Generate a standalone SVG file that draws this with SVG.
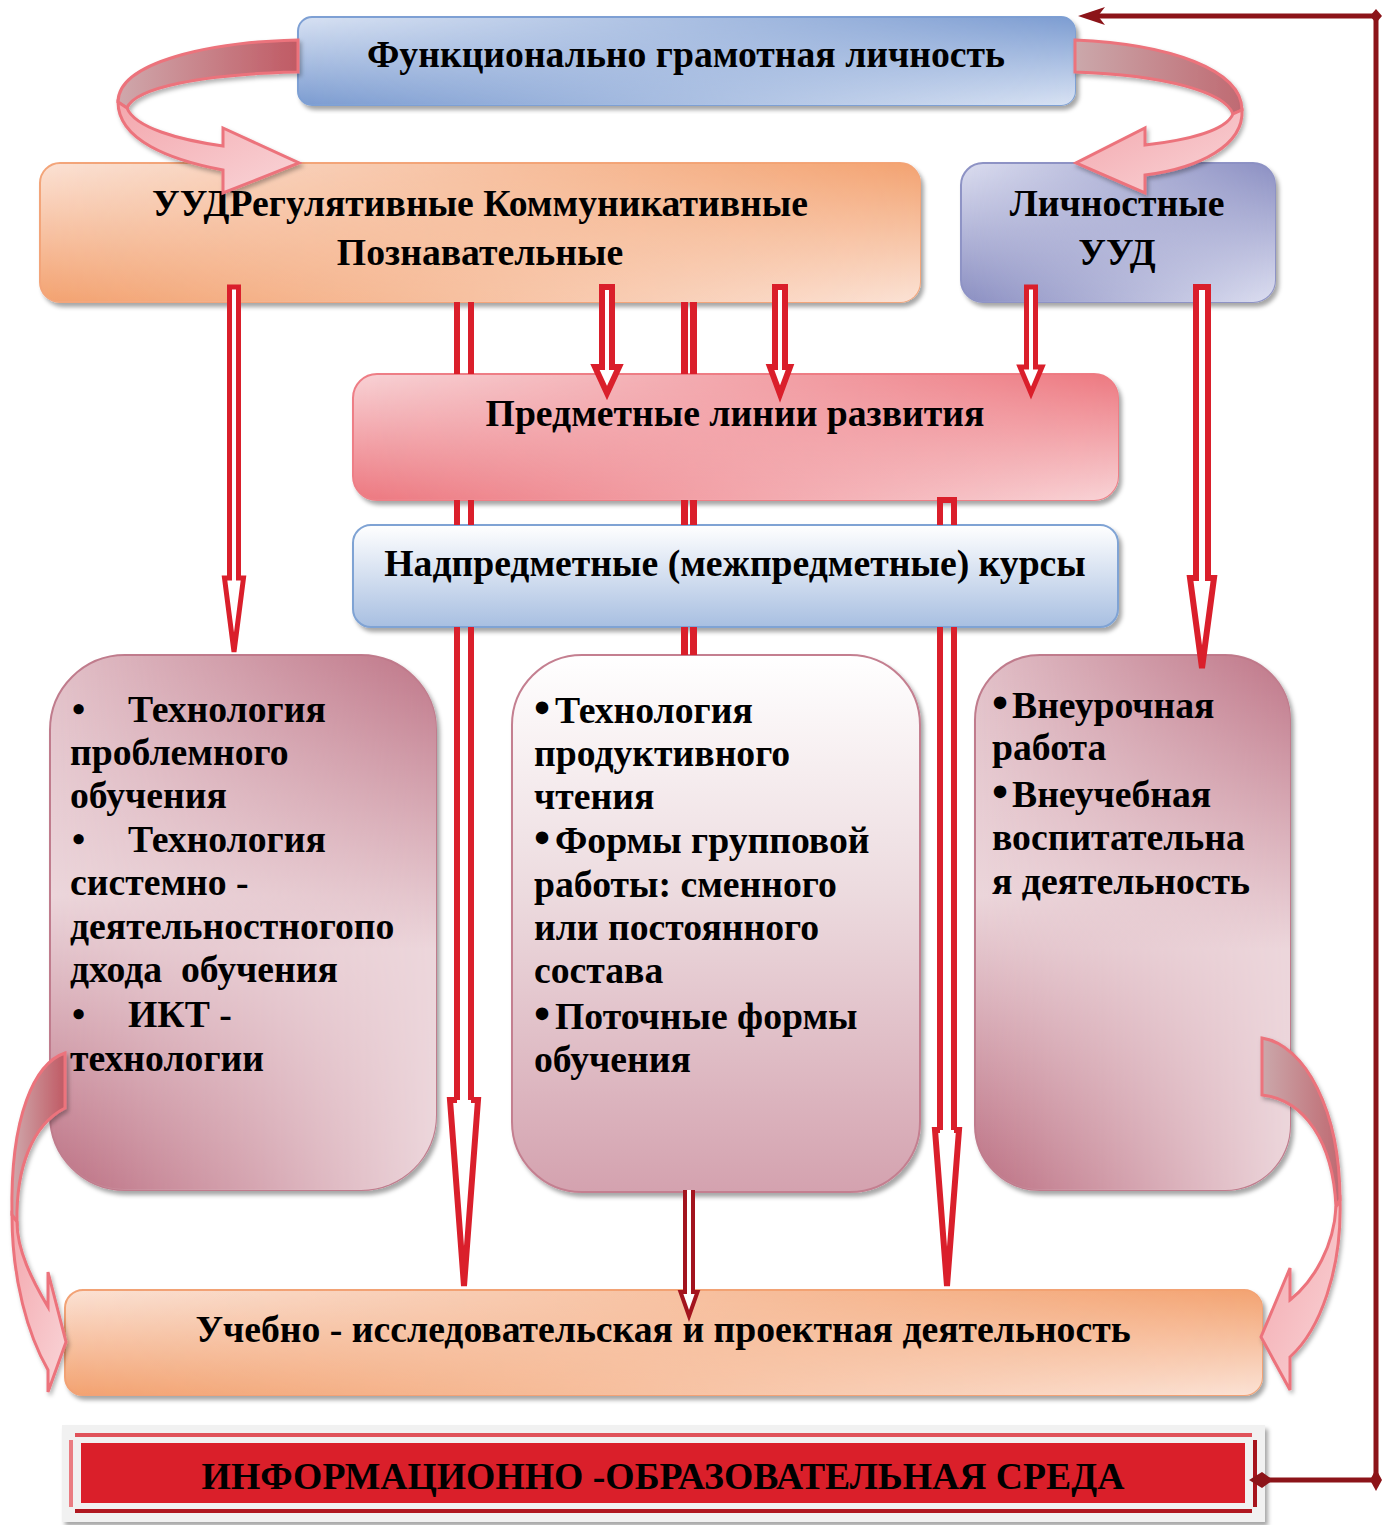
<svg xmlns="http://www.w3.org/2000/svg" width="1382" height="1525" viewBox="0 0 1382 1525">
<style>
.t{font-family:"Liberation Serif","Times New Roman",serif;font-weight:bold;font-size:37.7px;fill:#000}
.c{text-anchor:middle}
.bl{font-size:46px}
.ar{fill:#fff;stroke:#da1f2b;stroke-width:6}
.ar5{fill:#fff;stroke:#da1f2b;stroke-width:5}
.ln{fill:none;stroke:#da1f2b}
.rb{stroke:#ec737c;stroke-width:3}
.fr{stroke:#8c1419;stroke-width:5;fill:none}
</style>
<defs>
<filter id="sh" x="-5%" y="-5%" width="112%" height="115%"><feDropShadow dx="3" dy="4" stdDeviation="2" flood-color="#000" flood-opacity="0.35"/></filter>
<filter id="sh2" x="-20%" y="-10%" width="140%" height="125%"><feDropShadow dx="2" dy="3" stdDeviation="2" flood-color="#000" flood-opacity="0.3"/></filter>
<linearGradient id="ramp" x1="0" y1="0" x2="1" y2="0"><stop offset="0" stop-color="#000"/><stop offset="1" stop-color="#fff"/></linearGradient>
<mask id="mR" maskContentUnits="objectBoundingBox"><rect width="1" height="1" fill="url(#ramp)"/></mask>
<linearGradient id="blA" x1="0" y1="0" x2="0" y2="1"><stop offset="0" stop-color="#d8e2f3"/><stop offset="1" stop-color="#7c9cd1"/></linearGradient>
<linearGradient id="blB" x1="0" y1="0" x2="0" y2="1"><stop offset="0" stop-color="#7c9cd1"/><stop offset="1" stop-color="#d8e2f3"/></linearGradient>
<linearGradient id="orA" x1="0" y1="0" x2="0" y2="1"><stop offset="0" stop-color="#fbe2d5"/><stop offset="1" stop-color="#f3a270"/></linearGradient>
<linearGradient id="orB" x1="0" y1="0" x2="0" y2="1"><stop offset="0" stop-color="#f3a270"/><stop offset="1" stop-color="#fbe2d5"/></linearGradient>
<linearGradient id="puA" x1="0" y1="0" x2="0" y2="1"><stop offset="0" stop-color="#dcdef0"/><stop offset="1" stop-color="#8b8fc2"/></linearGradient>
<linearGradient id="puB" x1="0" y1="0" x2="0" y2="1"><stop offset="0" stop-color="#8b8fc2"/><stop offset="1" stop-color="#dcdef0"/></linearGradient>
<linearGradient id="rdA" x1="0" y1="0" x2="0" y2="1"><stop offset="0" stop-color="#f8d3d6"/><stop offset="1" stop-color="#ed7880"/></linearGradient>
<linearGradient id="rdB" x1="0" y1="0" x2="0" y2="1"><stop offset="0" stop-color="#ed7880"/><stop offset="1" stop-color="#f8d3d6"/></linearGradient>
<linearGradient id="mvA" x1="0" y1="0" x2="0" y2="1"><stop offset="0" stop-color="#e2c0c8"/><stop offset="0.45" stop-color="#ecd6db"/><stop offset="1" stop-color="#bc6f82"/></linearGradient>
<linearGradient id="mvB" x1="0" y1="0" x2="0" y2="1"><stop offset="0" stop-color="#be7587"/><stop offset="0.55" stop-color="#ecd6db"/><stop offset="1" stop-color="#ecd6db"/></linearGradient>
<linearGradient id="wb" x1="0" y1="0" x2="0" y2="1"><stop offset="0" stop-color="#ffffff"/><stop offset="1" stop-color="#a8bfe1"/></linearGradient>
<linearGradient id="wm" x1="0" y1="0" x2="0" y2="1"><stop offset="0" stop-color="#ffffff"/><stop offset="0.45" stop-color="#ecdade"/><stop offset="1" stop-color="#d4a2af"/></linearGradient>
<linearGradient id="bk1" x1="0" y1="0" x2="1" y2="0"><stop offset="0" stop-color="#cfa8ac"/><stop offset="1" stop-color="#c05a64"/></linearGradient>
<linearGradient id="bk2" x1="0" y1="0" x2="1" y2="0"><stop offset="0" stop-color="#cba8ab"/><stop offset="1" stop-color="#bf6a72"/></linearGradient>
<linearGradient id="fp" x1="0" y1="0" x2="1" y2="1"><stop offset="0" stop-color="#f3a7ad"/><stop offset="1" stop-color="#f9d5d8"/></linearGradient>
</defs>
<rect width="1382" height="1525" fill="#fff"/>

<g id="n-top" filter="url(#sh)">
<rect x="298" y="17" width="777" height="88" rx="14" fill="url(#blA)" stroke="#7ea0d4" stroke-width="2"/>
<rect x="298" y="17" width="777" height="88" rx="14" fill="url(#blB)" mask="url(#mR)"/>
</g>
<text class="t c" x="686" y="67">Функционально грамотная личность</text>

<g id="n-uud" filter="url(#sh)">
<rect x="40" y="163" width="880" height="139" rx="20" fill="url(#orA)" stroke="#f3a57a" stroke-width="2"/>
<rect x="40" y="163" width="880" height="139" rx="20" fill="url(#orB)" mask="url(#mR)"/>
</g>
<text class="t c" x="480" y="216">УУДРегулятивные Коммуникативные</text>
<text class="t c" x="480" y="265">Познавательные</text>

<g id="n-lich" filter="url(#sh)">
<rect x="961" y="163" width="314" height="139" rx="22" fill="url(#puA)" stroke="#8e93c5" stroke-width="2"/>
<rect x="961" y="163" width="314" height="139" rx="22" fill="url(#puB)" mask="url(#mR)"/>
</g>
<text class="t c" x="1117" y="216">Личностные</text>
<text class="t c" x="1117" y="265">УУД</text>

<g id="n-pred" filter="url(#sh)">
<rect x="353" y="374" width="765" height="126" rx="24" fill="url(#rdA)" stroke="#ee7e86" stroke-width="2"/>
<rect x="353" y="374" width="765" height="126" rx="24" fill="url(#rdB)" mask="url(#mR)"/>
</g>
<text class="t c" x="735" y="426">Предметные линии развития</text>

<g id="n-nadp" filter="url(#sh)">
<rect x="353" y="525" width="765" height="102" rx="18" fill="url(#wb)" stroke="#7fa3d4" stroke-width="2"/>
</g>
<text class="t c" x="735" y="576">Надпредметные (межпредметные) курсы</text>

<g id="n-left" filter="url(#sh)">
<rect x="50" y="655" width="386" height="535" rx="75" fill="url(#mvA)" stroke="#c07c8d" stroke-width="2"/>
<rect x="50" y="655" width="386" height="535" rx="75" fill="url(#mvB)" mask="url(#mR)"/>
</g>
<g id="n-left-text">
<text class="t" x="72" y="722">•<tspan x="128">Технология</tspan></text>
<text class="t" x="70" y="765">проблемного</text>
<text class="t" x="70" y="808">обучения</text>
<text class="t" x="72" y="852">•<tspan x="128">Технология</tspan></text>
<text class="t" x="70" y="895">системно -</text>
<text class="t" x="70" y="939">деятельностногопо</text>
<text class="t" x="70" y="982" xml:space="preserve">дхода  обучения</text>
<text class="t" x="72" y="1027">•<tspan x="128">ИКТ -</tspan></text>
<text class="t" x="70" y="1071">технологии</text>
</g>

<g id="n-mid" filter="url(#sh)">
<rect x="512" y="655" width="408" height="537" rx="70" fill="url(#wm)" stroke="#c47f90" stroke-width="2"/>
</g>
<g id="n-mid-text">
<text class="t" x="534" y="723"><tspan class="bl">•</tspan><tspan x="555">Технология</tspan></text>
<text class="t" x="534" y="766">продуктивного</text>
<text class="t" x="534" y="809">чтения</text>
<text class="t" x="534" y="853"><tspan class="bl">•</tspan><tspan x="555">Формы групповой</tspan></text>
<text class="t" x="534" y="897">работы: сменного</text>
<text class="t" x="534" y="940">или постоянного</text>
<text class="t" x="534" y="983">состава</text>
<text class="t" x="534" y="1029"><tspan class="bl">•</tspan><tspan x="555">Поточные формы</tspan></text>
<text class="t" x="534" y="1072">обучения</text>
</g>

<g id="n-right" filter="url(#sh)">
<rect x="975" y="655" width="315" height="535" rx="65" fill="url(#mvA)" stroke="#c07c8d" stroke-width="2"/>
<rect x="975" y="655" width="315" height="535" rx="65" fill="url(#mvB)" mask="url(#mR)"/>
</g>
<g id="n-right-text">
<text class="t" x="992" y="718"><tspan class="bl">•</tspan><tspan x="1012">Внеурочная</tspan></text>
<text class="t" x="992" y="760">работа</text>
<text class="t" x="992" y="807"><tspan class="bl">•</tspan><tspan x="1012">Внеучебная</tspan></text>
<text class="t" x="992" y="850">воспитательна</text>
<text class="t" x="992" y="894">я деятельность</text>
</g>

<g id="n-proj" filter="url(#sh)">
<rect x="65" y="1290" width="1197" height="105" rx="18" fill="url(#orA)" stroke="#f2a275" stroke-width="2"/>
<rect x="65" y="1290" width="1197" height="105" rx="18" fill="url(#orB)" mask="url(#mR)"/>
</g>
<text class="t c" x="663" y="1342">Учебно - исследовательская и проектная деятельность</text>

<g id="n-env">
<rect x="62" y="1425" width="1203" height="97" fill="#f1f1f1" filter="url(#sh)"/>
<rect x="75" y="1433" width="1177" height="4" fill="#e0525a"/>
<rect x="75" y="1509" width="1177" height="4" fill="#b01820"/>
<rect x="69" y="1440" width="4" height="67" fill="#ea7c82"/>
<rect x="1253" y="1440" width="4" height="67" fill="#a8141c"/>
<rect x="81" y="1443" width="1164" height="60" fill="#da1f2a"/>
<text class="t c" x="663" y="1489">ИНФОРМАЦИОННО -ОБРАЗОВАТЕЛЬНАЯ СРЕДА</text>
</g>

<g id="connectors">
<g filter="url(#sh2)">
<path class="rb" fill="url(#bk1)" d="M298,40 C210,42 118,62 118,102 L127,108 C135,88 200,74 298,72 Z"/>
<path class="rb" fill="url(#fp)" d="M118,102 C118,140 170,160 223,170 L223,193 L299,163 L223,128 L223,146 C180,140 135,128 127,108 Z"/>
<path class="rb" fill="url(#bk2)" d="M1075,40 C1170,44 1242,70 1242,110 L1233,114 C1225,92 1165,75 1075,72 Z"/>
<path class="rb" fill="url(#fp)" d="M1242,110 C1244,145 1200,168 1145,175 L1145,193 L1076,163 L1145,128 L1145,145 C1190,140 1226,130 1233,114 Z"/>
<path class="rb" fill="url(#bk1)" d="M65,1053 C35,1063 10,1115 12,1215 L17,1222 C16,1168 32,1125 65,1108 Z"/>
<path class="rb" fill="url(#fp)" d="M12,1215 C12,1280 28,1335 48,1370 L48,1392 L66,1342 L48,1272 L48,1307 C32,1280 17,1250 17,1222 Z"/>
<path class="rb" fill="url(#bk2)" d="M1262,1038 C1305,1045 1340,1110 1340,1200 L1336,1207 C1333,1142 1305,1100 1262,1095 Z"/>
<path class="rb" fill="url(#fp)" d="M1340,1200 C1342,1270 1320,1330 1290,1357 L1290,1390 L1261,1337 L1290,1268 L1290,1300 C1315,1280 1334,1245 1336,1207 Z"/>
</g>
<path class="ar5" d="M229.5,287 V578 H224.5 L234,652 L243.5,578 H238.5 V287 Z"/>
<path class="ar" d="M602,287 V367 H595 L607,393 L619,367 H612 V287 Z"/>
<path class="ar" d="M775,287 V367 H770 L780,394 L790,367 H785 V287 Z"/>
<path class="ar5" d="M1026.5,287 V367 H1020 L1031,393 L1042,367 H1035.5 V287 Z"/>
<path class="ar" d="M1196,287 V578 H1190 L1202,668 L1214,578 H1208 V287 Z"/>
<g class="ln" stroke-width="6">
<path d="M457,302 V374 M471,302 V374 M457,500 V525 M471,500 V525 M457,627 V1103 M471,627 V1103"/>
</g>
<path class="ar" d="M457,1100 H450 L464,1286 L478,1100 H471"/>
<g class="ln" stroke-width="7">
<path d="M684.5,302 V374 M693.5,302 V374 M684.5,500 V525 M693.5,500 V525 M684.5,627 V655 M693.5,627 V655"/>
</g>
<g class="ln" stroke-width="6">
<path d="M940,525 V500 H954 V525 M940,627 V1133 M954,627 V1133"/>
</g>
<path class="ar" d="M940,1130 H935 L947,1286 L959,1130 H954"/>
<path d="M685,1190 V1292 H680.5 L689,1316 L697.5,1292 H693 V1190" fill="#fff" stroke="#a3141e" stroke-width="4"/>
<path class="fr" d="M1262,1480 H1376 V16 H1095"/>
<path d="M1078,16 L1105,7 L1098,16 L1105,25 Z" fill="#8c1419"/>
<path d="M1376,9 L1382,16 L1376,23 L1370,16 Z" fill="#8c1419"/>
<path d="M1376,1469 L1382,1480 L1376,1491 L1370,1480 Z" fill="#8c1419"/>
<path d="M1249,1480 L1262,1472 L1273,1480 L1262,1488 Z" fill="#8c1419"/>
</g>
</svg>
